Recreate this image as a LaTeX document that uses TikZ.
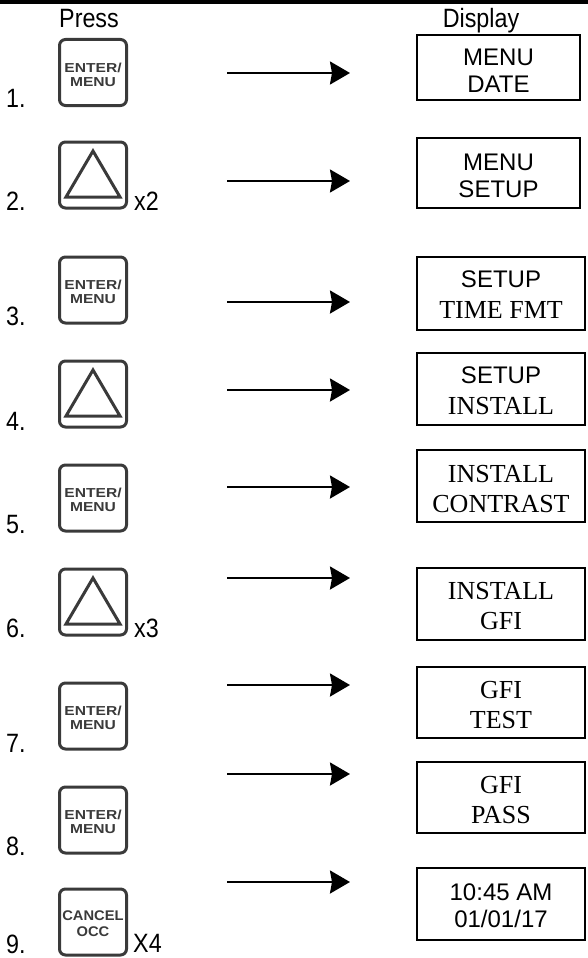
\documentclass[tikz,border=0pt]{standalone}
\usepackage{fontspec}
\setmainfont{Liberation Sans}
\newfontfamily\narrowsans[FakeStretch=0.88]{Liberation Sans}
\newfontfamily\dispserif{Liberation Serif}
\newfontfamily\btnfont[FakeStretch=1.2]{Liberation Sans Bold}
\newfontfamily\cbtnfont[FakeStretch=1.05]{Liberation Sans Bold}
\usetikzlibrary{arrows.meta}
\definecolor{btngray}{HTML}{3A3A3A}
\tikzset{
  btn/.style={draw=btngray, line width=3pt, rounded corners=6pt, minimum width=67pt, minimum height=66pt, inner sep=0pt},
  disp/.style={draw=black, line width=1.8pt, inner sep=0pt},
  disptext/.style={align=center, inner sep=0pt},
  sansd/.style={font=\fontsize{24}{27}\selectfont},
  mixd/.style={font=\fontsize{24}{31}\selectfont},
  serifd/.style={font=\dispserif\fontsize{26}{30}\selectfont},
  num/.style={anchor=base west, inner sep=0pt, font=\narrowsans\fontsize{26.5}{30}\selectfont},
  head/.style={anchor=base, inner sep=0pt, font=\narrowsans\fontsize{26.5}{30}\selectfont},
  arr/.style={line width=2.3pt, -{Stealth[length=20pt,width=23pt,inset=2pt]}},
  enterlbl/.style={align=center, inner sep=0pt, text=btngray, font=\btnfont\fontsize{13}{14.5}\selectfont},
  cancellbl/.style={align=center, inner sep=0pt, text=btngray, font=\cbtnfont\fontsize{14}{16}\selectfont},
  tri/.style={draw=btngray, line width=3pt, line join=miter}
}
\begin{document}
\begin{tikzpicture}[x=1pt,y=-1pt]
\useasboundingbox (0,0) rectangle (588,958);
\fill[black] (0,0) rectangle (588,4) ;
\node[head] (hpress) at (89,28) {Press};
\node[head] (hdisp) at (481,28) {Display};

% buttons
\foreach \i/\y in {1/72.5,2/175,3/290,4/394,5/498,6/602,7/716,8/820,9/922}{
  \node[btn] (b\i) at (93,\y) {};
}
\node[enterlbl] (t1) at (93,75) {ENTER/\\MENU};
\node[enterlbl] (t3) at (93,292) {ENTER/\\MENU};
\node[enterlbl] (t5) at (93,500) {ENTER/\\MENU};
\node[enterlbl] (t7) at (93,718) {ENTER/\\MENU};
\node[enterlbl] (t8) at (93,822) {ENTER/\\MENU};
\node[cancellbl] (t9) at (93,924) {CANCEL\\OCC};
\foreach \i in {2,4,6}{
  \draw[tri] ([yshift=24pt]b\i.center) -- ([xshift=-27pt,yshift=-22pt]b\i.center) -- ([xshift=27pt,yshift=-22pt]b\i.center) -- cycle;
}

% step numbers
\node[num] (n1) at (6,107) {1.};
\node[num] (n2) at (6,210) {2.};
\node[num] (n3) at (6,325) {3.};
\node[num] (n4) at (6,430) {4.};
\node[num] (n5) at (6,533) {5.};
\node[num] (n6) at (6,637) {6.};
\node[num] (n7) at (6,752) {7.};
\node[num] (n8) at (6,855) {8.};
\node[num] (n9) at (6,953) {9.};
\node[num] (m2) at (134,210) {x2};
\node[num] (m6) at (134,637) {x3};
\node[num] (m9) at (133,952) {X4};

% displays
\node[disp, minimum width=163pt, minimum height=65pt] (d1) at (498.5,67.5) {};
\node[disp, minimum width=163pt, minimum height=70pt] (d2) at (498.5,173) {};
\node[disp, minimum width=168pt, minimum height=73pt] (d3) at (501,293.5) {};
\node[disp, minimum width=168pt, minimum height=72pt] (d4) at (501,389) {};
\node[disp, minimum width=168pt, minimum height=72pt] (d5) at (501,486) {};
\node[disp, minimum width=168pt, minimum height=72pt] (d6) at (501,604) {};
\node[disp, minimum width=168pt, minimum height=71pt] (d7) at (501,702.5) {};
\node[disp, minimum width=168pt, minimum height=71pt] (d8) at (501,797.5) {};
\node[disp, minimum width=168pt, minimum height=72pt] (d9) at (501,904) {};

\node[disptext, sansd] (dt1) at (498.5,71) {MENU\\DATE};
\node[disptext, sansd] (dt2) at (498.5,176) {MENU\\SETUP};
\node[disptext, mixd] (dt3) at (501,295) {SETUP\\{\dispserif\fontsize{26}{31}\selectfont TIME FMT}};
\node[disptext, mixd] (dt4) at (501,391) {SETUP\\{\dispserif\fontsize{26}{31}\selectfont INSTALL}};
\node[disptext, serifd] (dt5) at (501,489) {INSTALL\\CONTRAST};
\node[disptext, serifd] (dt6) at (501,606) {INSTALL\\GFI};
\node[disptext, serifd] (dt7) at (501,705) {GFI\\TEST};
\node[disptext, serifd] (dt8) at (501,800) {GFI\\PASS};
\node[disptext, sansd] (dt9) at (501,906) {10:45 AM\\01/01/17};

% arrows
\foreach \i/\y in {1/73,2/181,3/302,4/390,5/487,6/578,7/685,8/774,9/882}{
  \coordinate (as\i) at (227,\y);
  \coordinate (ae\i) at (350,\y);
  \draw[arr] (as\i) -- (ae\i);
}
\end{tikzpicture}
\end{document}
